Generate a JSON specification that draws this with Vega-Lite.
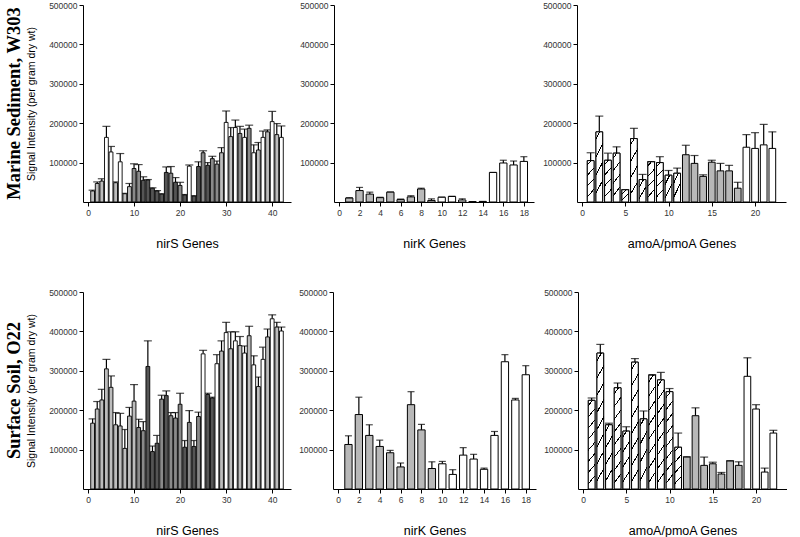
{
  "$schema": "https://vega.github.io/schema/vega-lite/v6.json",
  "padding": {"left": 5, "top": 1, "right": 0, "bottom": 0},
  "background": "white",
  "config": {
    "view": {"stroke": null},
    "font": "Liberation Sans",
    "axis": {"grid": false, "domainColor": "black", "tickColor": "black", "labelColor": "#333333", "labelFont": "Liberation Sans", "titleFont": "Liberation Sans", "labelFontSize": 8.5, "tickSize": 4, "labelPadding": 2, "labelOverlap": false, "titleFontWeight": "normal", "titleColor": "black", "titleFontSize": 12.5}
  },
  "datasets": {
    "ms_nirs": [
      {"gene":1,"value":28000,"err":30000,"shade":"l"},{"gene":2,"value":47000,"err":51000,"shade":"l"},{"gene":3,"value":53000,"err":59000,"shade":"l"},{"gene":4,"value":164000,"err":192000,"shade":"w"},{"gene":5,"value":127000,"err":141000,"shade":"w"},{"gene":6,"value":49000,"err":51000,"shade":"l"},{"gene":7,"value":102000,"err":123000,"shade":"w"},{"gene":8,"value":21000,"err":22000,"shade":"l"},{"gene":9,"value":39000,"err":47000,"shade":"l"},{"gene":10,"value":85000,"err":97000,"shade":"m"},{"gene":11,"value":78000,"err":95000,"shade":"m"},{"gene":12,"value":55000,"err":64000,"shade":"d"},{"gene":13,"value":56000,"err":57000,"shade":"d"},{"gene":14,"value":35000,"err":36000,"shade":"d"},{"gene":15,"value":28000,"err":29000,"shade":"d"},{"gene":16,"value":20000,"err":21000,"shade":"d"},{"gene":17,"value":75000,"err":89000,"shade":"d"},{"gene":18,"value":73000,"err":90000,"shade":"m"},{"gene":19,"value":50000,"err":62000,"shade":"d"},{"gene":20,"value":42000,"err":50000,"shade":"m"},{"gene":21,"value":18000,"err":19000,"shade":"d"},{"gene":22,"value":91000,"err":94000,"shade":"w"},{"gene":23,"value":15000,"err":16000,"shade":"d"},{"gene":24,"value":90000,"err":102000,"shade":"d"},{"gene":25,"value":125000,"err":130000,"shade":"m"},{"gene":26,"value":93000,"err":100000,"shade":"d"},{"gene":27,"value":110000,"err":116000,"shade":"m"},{"gene":28,"value":96000,"err":104000,"shade":"m"},{"gene":29,"value":125000,"err":138000,"shade":"l"},{"gene":30,"value":202000,"err":231000,"shade":"w"},{"gene":31,"value":166000,"err":189000,"shade":"l"},{"gene":32,"value":189000,"err":208000,"shade":"w"},{"gene":33,"value":174000,"err":192000,"shade":"m"},{"gene":34,"value":164000,"err":185000,"shade":"w"},{"gene":35,"value":187000,"err":195000,"shade":"m"},{"gene":36,"value":125000,"err":145000,"shade":"w"},{"gene":37,"value":132000,"err":151000,"shade":"l"},{"gene":38,"value":164000,"err":180000,"shade":"w"},{"gene":39,"value":178000,"err":183000,"shade":"l"},{"gene":40,"value":204000,"err":230000,"shade":"w"},{"gene":41,"value":171000,"err":199000,"shade":"l"},{"gene":42,"value":164000,"err":193000,"shade":"w"}
    ],
    "ms_nirk": [
      {"gene":1,"value":10000,"err":11000,"shade":"g"},{"gene":2,"value":29000,"err":37000,"shade":"g"},{"gene":3,"value":20000,"err":25000,"shade":"g"},{"gene":4,"value":11000,"err":12000,"shade":"g"},{"gene":5,"value":25000,"err":25500,"shade":"g"},{"gene":6,"value":6000,"err":7500,"shade":"g"},{"gene":7,"value":13000,"err":16000,"shade":"g"},{"gene":8,"value":33000,"err":35000,"shade":"g"},{"gene":9,"value":4000,"err":8000,"shade":"w"},{"gene":10,"value":12000,"err":12500,"shade":"w"},{"gene":11,"value":14000,"err":14500,"shade":"w"},{"gene":12,"value":5000,"err":8000,"shade":"w"},{"gene":13,"value":1000,"err":1000,"shade":"w"},{"gene":14,"value":1000,"err":1500,"shade":"w"},{"gene":15,"value":75000,"err":75000,"shade":"w"},{"gene":16,"value":99000,"err":106000,"shade":"w"},{"gene":17,"value":94000,"err":104000,"shade":"w"},{"gene":18,"value":103000,"err":115000,"shade":"w"}
    ],
    "ms_amoa": [
      {"gene":1,"value":105000,"err":125000,"shade":"h"},{"gene":2,"value":178000,"err":218000,"shade":"h"},{"gene":3,"value":106000,"err":124000,"shade":"h"},{"gene":4,"value":124000,"err":140000,"shade":"h"},{"gene":5,"value":31000,"err":31500,"shade":"h"},{"gene":6,"value":161000,"err":187000,"shade":"h"},{"gene":7,"value":57000,"err":70000,"shade":"h"},{"gene":8,"value":102000,"err":102500,"shade":"h"},{"gene":9,"value":100000,"err":115000,"shade":"h"},{"gene":10,"value":68000,"err":80000,"shade":"h"},{"gene":11,"value":73000,"err":86000,"shade":"h"},{"gene":12,"value":120000,"err":144000,"shade":"g"},{"gene":13,"value":98000,"err":118000,"shade":"g"},{"gene":14,"value":65000,"err":69000,"shade":"g"},{"gene":15,"value":101000,"err":106000,"shade":"g"},{"gene":16,"value":79000,"err":98000,"shade":"g"},{"gene":17,"value":79000,"err":93000,"shade":"g"},{"gene":18,"value":35000,"err":50000,"shade":"g"},{"gene":19,"value":139000,"err":171000,"shade":"w"},{"gene":20,"value":136000,"err":176000,"shade":"w"},{"gene":21,"value":145000,"err":197000,"shade":"w"},{"gene":22,"value":136000,"err":178000,"shade":"w"}
    ],
    "ss_nirs": [
      {"gene":1,"value":167000,"err":178000,"shade":"l"},{"gene":2,"value":203000,"err":222000,"shade":"l"},{"gene":3,"value":226000,"err":253000,"shade":"l"},{"gene":4,"value":305000,"err":329000,"shade":"l"},{"gene":5,"value":258000,"err":287000,"shade":"l"},{"gene":6,"value":163000,"err":194000,"shade":"l"},{"gene":7,"value":160000,"err":192000,"shade":"l"},{"gene":8,"value":103000,"err":151000,"shade":"l"},{"gene":9,"value":185000,"err":207000,"shade":"l"},{"gene":10,"value":223000,"err":265000,"shade":"l"},{"gene":11,"value":156000,"err":177000,"shade":"m"},{"gene":12,"value":148000,"err":171000,"shade":"m"},{"gene":13,"value":311000,"err":376000,"shade":"d"},{"gene":14,"value":95000,"err":109000,"shade":"d"},{"gene":15,"value":116000,"err":136000,"shade":"d"},{"gene":16,"value":228000,"err":238000,"shade":"m"},{"gene":17,"value":237000,"err":249000,"shade":"d"},{"gene":18,"value":186000,"err":194000,"shade":"m"},{"gene":19,"value":180000,"err":194000,"shade":"m"},{"gene":20,"value":215000,"err":243000,"shade":"m"},{"gene":21,"value":106000,"err":123000,"shade":"d"},{"gene":22,"value":169000,"err":199000,"shade":"m"},{"gene":23,"value":108000,"err":123000,"shade":"d"},{"gene":24,"value":184000,"err":195000,"shade":"m"},{"gene":25,"value":343000,"err":352000,"shade":"w"},{"gene":26,"value":240000,"err":243000,"shade":"d"},{"gene":27,"value":231000,"err":233000,"shade":"d"},{"gene":28,"value":318000,"err":341000,"shade":"w"},{"gene":29,"value":350000,"err":376000,"shade":"l"},{"gene":30,"value":397000,"err":423000,"shade":"w"},{"gene":31,"value":356000,"err":399000,"shade":"l"},{"gene":32,"value":376000,"err":399000,"shade":"w"},{"gene":33,"value":364000,"err":387000,"shade":"l"},{"gene":34,"value":345000,"err":363000,"shade":"w"},{"gene":35,"value":389000,"err":413000,"shade":"l"},{"gene":36,"value":315000,"err":338000,"shade":"w"},{"gene":37,"value":260000,"err":284000,"shade":"l"},{"gene":38,"value":329000,"err":360000,"shade":"w"},{"gene":39,"value":386000,"err":406000,"shade":"l"},{"gene":40,"value":432000,"err":442000,"shade":"w"},{"gene":41,"value":411000,"err":423000,"shade":"l"},{"gene":42,"value":401000,"err":411000,"shade":"w"}
    ],
    "ss_nirk": [
      {"gene":1,"value":113000,"err":135000,"shade":"g"},{"gene":2,"value":189000,"err":233000,"shade":"g"},{"gene":3,"value":136000,"err":163000,"shade":"g"},{"gene":4,"value":108000,"err":124000,"shade":"g"},{"gene":5,"value":92000,"err":98000,"shade":"g"},{"gene":6,"value":56000,"err":66000,"shade":"g"},{"gene":7,"value":214000,"err":247000,"shade":"g"},{"gene":8,"value":150000,"err":164000,"shade":"g"},{"gene":9,"value":52000,"err":69000,"shade":"g"},{"gene":10,"value":64000,"err":70000,"shade":"w"},{"gene":11,"value":37000,"err":49000,"shade":"w"},{"gene":12,"value":86000,"err":105000,"shade":"w"},{"gene":13,"value":76000,"err":88000,"shade":"w"},{"gene":14,"value":50000,"err":53000,"shade":"w"},{"gene":15,"value":136000,"err":146000,"shade":"w"},{"gene":16,"value":323000,"err":341000,"shade":"w"},{"gene":17,"value":226000,"err":230000,"shade":"w"},{"gene":18,"value":290000,"err":313000,"shade":"w"}
    ],
    "ss_amoa": [
      {"gene":1,"value":225000,"err":231000,"shade":"h"},{"gene":2,"value":345000,"err":367000,"shade":"h"},{"gene":3,"value":163000,"err":167000,"shade":"h"},{"gene":4,"value":257000,"err":269000,"shade":"h"},{"gene":5,"value":147000,"err":158000,"shade":"h"},{"gene":6,"value":322000,"err":331000,"shade":"h"},{"gene":7,"value":178000,"err":198000,"shade":"h"},{"gene":8,"value":289000,"err":290000,"shade":"h"},{"gene":9,"value":277000,"err":296000,"shade":"h"},{"gene":10,"value":247000,"err":255000,"shade":"h"},{"gene":11,"value":106000,"err":142000,"shade":"h"},{"gene":12,"value":81000,"err":82000,"shade":"g"},{"gene":13,"value":186000,"err":206000,"shade":"g"},{"gene":14,"value":60000,"err":81000,"shade":"g"},{"gene":15,"value":64000,"err":68000,"shade":"g"},{"gene":16,"value":38000,"err":42000,"shade":"g"},{"gene":17,"value":71000,"err":72000,"shade":"g"},{"gene":18,"value":60000,"err":69000,"shade":"g"},{"gene":19,"value":286000,"err":333000,"shade":"w"},{"gene":20,"value":203000,"err":214000,"shade":"w"},{"gene":21,"value":43000,"err":53000,"shade":"w"},{"gene":22,"value":142000,"err":149000,"shade":"w"}
    ]
  },
  "vconcat": [
    {
      "hconcat": [
        {
          "width": 208, "height": 197,
          "data": {"name": "ms_nirs"},
          "title": {"text": "Marine Sediment, W303", "orient": "left", "anchor": "middle", "frame": "group", "font": "Liberation Serif", "fontSize": 18.5, "fontWeight": "bold", "color": "black", "offset": 3},
          "layer": [
            {"mark": {"type": "rule", "color": "black", "strokeWidth": 1.2},
             "encoding": {
               "x": {"field": "gene", "type": "quantitative", "scale": {"domain": [0, 43], "nice": false}, "axis": {"values": [0,10,20,30,40], "tickCount": 20, "format": "d", "labelOverlap": false, "title": "nirS Genes", "titlePadding": 21}},
               "y": {"field": "value", "type": "quantitative", "scale": {"domain": [0, 500000], "nice": false}, "axis": {"values": [100000,200000,300000,400000,500000], "tickCount": 20, "format": "d", "labelOverlap": false, "title": "Signal Intensity (per gram dry wt)", "titleFontSize": 10.5, "titlePadding": 12}},
               "y2": {"field": "err"}}},
            {"mark": {"type": "tick", "orient": "horizontal", "size": 8, "thickness": 1.2, "color": "black"},
             "encoding": {"x": {"field": "gene", "type": "quantitative"}, "y": {"field": "err", "type": "quantitative"}}},
            {"mark": {"type": "bar", "width": 3.8, "stroke": "black", "strokeWidth": 0.9},
             "encoding": {"x": {"field": "gene", "type": "quantitative"}, "y": {"field": "value", "type": "quantitative"},
               "fill": {"field": "shade", "type": "nominal", "legend": null, "scale": {"domain": ["w","l","m","d","g","h"], "range": ["#ffffff","#bdbdbd","#8a8a8a","#555555","#b8b8b8","#ffffff"]}}}}
          ]
        },
        {
          "width": 200, "height": 197,
          "data": {"name": "ms_nirk"},
          "layer": [
            {"mark": {"type": "rule", "color": "black", "strokeWidth": 1.2},
             "encoding": {
               "x": {"field": "gene", "type": "quantitative", "scale": {"domain": [0, 18.5], "nice": false}, "axis": {"values": [0,2,4,6,8,10,12,14,16,18], "tickCount": 20, "format": "d", "labelOverlap": false, "title": "nirK Genes", "titlePadding": 21}},
               "y": {"field": "value", "type": "quantitative", "scale": {"domain": [0, 500000], "nice": false}, "axis": {"values": [100000,200000,300000,400000,500000], "tickCount": 20, "format": "d", "labelOverlap": false, "title": null}},
               "y2": {"field": "err"}}},
            {"mark": {"type": "tick", "orient": "horizontal", "size": 7, "thickness": 1.2, "color": "black"},
             "encoding": {"x": {"field": "gene", "type": "quantitative"}, "y": {"field": "err", "type": "quantitative"}}},
            {"mark": {"type": "bar", "width": 7.3, "stroke": "black", "strokeWidth": 1},
             "encoding": {"x": {"field": "gene", "type": "quantitative"}, "y": {"field": "value", "type": "quantitative"},
               "fill": {"field": "shade", "type": "nominal", "legend": null, "scale": {"domain": ["w","l","m","d","g","h"], "range": ["#ffffff","#bdbdbd","#8a8a8a","#555555","#b8b8b8","#ffffff"]}}}}
          ]
        },
        {
          "width": 209, "height": 197,
          "data": {"name": "ms_amoa"},
          "layer": [
            {"mark": {"type": "rule", "color": "black", "strokeWidth": 1.2},
             "encoding": {
               "x": {"field": "gene", "type": "quantitative", "scale": {"domain": [0, 23], "nice": false}, "axis": {"values": [0,5,10,15,20], "tickCount": 20, "format": "d", "labelOverlap": false, "title": "amoA/pmoA Genes", "titlePadding": 21}},
               "y": {"field": "value", "type": "quantitative", "scale": {"domain": [0, 500000], "nice": false}, "axis": {"values": [100000,200000,300000,400000,500000], "tickCount": 20, "format": "d", "labelOverlap": false, "title": null}},
               "y2": {"field": "err"}}},
            {"mark": {"type": "tick", "orient": "horizontal", "size": 8, "thickness": 1.2, "color": "black"},
             "encoding": {"x": {"field": "gene", "type": "quantitative"}, "y": {"field": "err", "type": "quantitative"}}},
            {"mark": {"type": "bar", "width": 6.7, "stroke": "black", "strokeWidth": 1},
             "encoding": {"x": {"field": "gene", "type": "quantitative"}, "y": {"field": "value", "type": "quantitative"},
               "fill": {"field": "shade", "type": "nominal", "legend": null, "scale": {"domain": ["w","l","m","d","g","h"], "range": ["#ffffff","#bdbdbd","#8a8a8a","#555555","#b8b8b8","#ffffff"]}}}},
            {"transform": [{"filter": "datum.shade == 'h' && datum.value < 80000"}],
             "mark": {"type": "bar", "width": 6.7, "stroke": "black", "strokeWidth": 1,
               "fill": {"gradient": "linear", "x1": 0.5, "y1": 1, "x2": 0, "y2": 0, "stops": [
                 {"offset": 0, "color": "white"}, {"offset": 0.3, "color": "white"}, {"offset": 0.3, "color": "black"}, {"offset": 0.37, "color": "black"}, {"offset": 0.37, "color": "white"},
                 {"offset": 0.7, "color": "white"}, {"offset": 0.7, "color": "black"}, {"offset": 0.77, "color": "black"}, {"offset": 0.77, "color": "white"}, {"offset": 1, "color": "white"}]}},
             "encoding": {"x": {"field": "gene", "type": "quantitative"}, "y": {"field": "value", "type": "quantitative"}}},
            {"transform": [{"filter": "datum.shade == 'h' && datum.value >= 80000"}],
             "mark": {"type": "bar", "width": 6.7, "stroke": "black", "strokeWidth": 1,
               "fill": {"gradient": "linear", "x1": 0.18, "y1": 1, "x2": 0, "y2": 0, "stops": [
                 {"offset": 0, "color": "white"}, {"offset": 0.14, "color": "white"}, {"offset": 0.14, "color": "black"}, {"offset": 0.17, "color": "black"}, {"offset": 0.17, "color": "white"},
                 {"offset": 0.39, "color": "white"}, {"offset": 0.39, "color": "black"}, {"offset": 0.42, "color": "black"}, {"offset": 0.42, "color": "white"},
                 {"offset": 0.64, "color": "white"}, {"offset": 0.64, "color": "black"}, {"offset": 0.67, "color": "black"}, {"offset": 0.67, "color": "white"},
                 {"offset": 0.89, "color": "white"}, {"offset": 0.89, "color": "black"}, {"offset": 0.92, "color": "black"}, {"offset": 0.92, "color": "white"}, {"offset": 1, "color": "white"}]}},
             "encoding": {"x": {"field": "gene", "type": "quantitative"}, "y": {"field": "value", "type": "quantitative"}}}
          ]
        }
      ],
      "spacing": 8
    },
    {
      "hconcat": [
        {
          "width": 208, "height": 197,
          "data": {"name": "ss_nirs"},
          "title": {"text": "Surface Soil, O22", "orient": "left", "anchor": "middle", "frame": "group", "font": "Liberation Serif", "fontSize": 18.5, "fontWeight": "bold", "color": "black", "offset": 3},
          "layer": [
            {"mark": {"type": "rule", "color": "black", "strokeWidth": 1.2},
             "encoding": {
               "x": {"field": "gene", "type": "quantitative", "scale": {"domain": [0, 43], "nice": false}, "axis": {"values": [0,10,20,30,40], "tickCount": 20, "format": "d", "labelOverlap": false, "title": "nirS Genes", "titlePadding": 21}},
               "y": {"field": "value", "type": "quantitative", "scale": {"domain": [0, 500000], "nice": false}, "axis": {"values": [100000,200000,300000,400000,500000], "tickCount": 20, "format": "d", "labelOverlap": false, "title": "Signal Intensity (per gram dry wt)", "titleFontSize": 10.5, "titlePadding": 12}},
               "y2": {"field": "err"}}},
            {"mark": {"type": "tick", "orient": "horizontal", "size": 8, "thickness": 1.2, "color": "black"},
             "encoding": {"x": {"field": "gene", "type": "quantitative"}, "y": {"field": "err", "type": "quantitative"}}},
            {"mark": {"type": "bar", "width": 3.8, "stroke": "black", "strokeWidth": 0.9},
             "encoding": {"x": {"field": "gene", "type": "quantitative"}, "y": {"field": "value", "type": "quantitative"},
               "fill": {"field": "shade", "type": "nominal", "legend": null, "scale": {"domain": ["w","l","m","d","g","h"], "range": ["#ffffff","#bdbdbd","#8a8a8a","#555555","#b8b8b8","#ffffff"]}}}}
          ]
        },
        {
          "width": 203, "height": 197,
          "data": {"name": "ss_nirk"},
          "layer": [
            {"mark": {"type": "rule", "color": "black", "strokeWidth": 1.2},
             "encoding": {
               "x": {"field": "gene", "type": "quantitative", "scale": {"domain": [0, 18.5], "nice": false}, "axis": {"values": [0,2,4,6,8,10,12,14,16,18], "tickCount": 20, "format": "d", "labelOverlap": false, "title": "nirK Genes", "titlePadding": 21}},
               "y": {"field": "value", "type": "quantitative", "scale": {"domain": [0, 500000], "nice": false}, "axis": {"values": [100000,200000,300000,400000,500000], "tickCount": 20, "format": "d", "labelOverlap": false, "title": null}},
               "y2": {"field": "err"}}},
            {"mark": {"type": "tick", "orient": "horizontal", "size": 7, "thickness": 1.2, "color": "black"},
             "encoding": {"x": {"field": "gene", "type": "quantitative"}, "y": {"field": "err", "type": "quantitative"}}},
            {"mark": {"type": "bar", "width": 7.3, "stroke": "black", "strokeWidth": 1},
             "encoding": {"x": {"field": "gene", "type": "quantitative"}, "y": {"field": "value", "type": "quantitative"},
               "fill": {"field": "shade", "type": "nominal", "legend": null, "scale": {"domain": ["w","l","m","d","g","h"], "range": ["#ffffff","#bdbdbd","#8a8a8a","#555555","#b8b8b8","#ffffff"]}}}}
          ]
        },
        {
          "width": 209, "height": 197,
          "data": {"name": "ss_amoa"},
          "layer": [
            {"mark": {"type": "rule", "color": "black", "strokeWidth": 1.2},
             "encoding": {
               "x": {"field": "gene", "type": "quantitative", "scale": {"domain": [0, 23], "nice": false}, "axis": {"values": [0,5,10,15,20], "tickCount": 20, "format": "d", "labelOverlap": false, "title": "amoA/pmoA Genes", "titlePadding": 21}},
               "y": {"field": "value", "type": "quantitative", "scale": {"domain": [0, 500000], "nice": false}, "axis": {"values": [100000,200000,300000,400000,500000], "tickCount": 20, "format": "d", "labelOverlap": false, "title": null}},
               "y2": {"field": "err"}}},
            {"mark": {"type": "tick", "orient": "horizontal", "size": 8, "thickness": 1.2, "color": "black"},
             "encoding": {"x": {"field": "gene", "type": "quantitative"}, "y": {"field": "err", "type": "quantitative"}}},
            {"mark": {"type": "bar", "width": 6.7, "stroke": "black", "strokeWidth": 1},
             "encoding": {"x": {"field": "gene", "type": "quantitative"}, "y": {"field": "value", "type": "quantitative"},
               "fill": {"field": "shade", "type": "nominal", "legend": null, "scale": {"domain": ["w","l","m","d","g","h"], "range": ["#ffffff","#bdbdbd","#8a8a8a","#555555","#b8b8b8","#ffffff"]}}}},
            {"transform": [{"filter": "datum.shade == 'h' && datum.value < 200000"}],
             "mark": {"type": "bar", "width": 6.7, "stroke": "black", "strokeWidth": 1,
               "fill": {"gradient": "linear", "x1": 0.18, "y1": 1, "x2": 0, "y2": 0, "stops": [
                 {"offset": 0, "color": "white"}, {"offset": 0.14, "color": "white"}, {"offset": 0.14, "color": "black"}, {"offset": 0.17, "color": "black"}, {"offset": 0.17, "color": "white"},
                 {"offset": 0.39, "color": "white"}, {"offset": 0.39, "color": "black"}, {"offset": 0.42, "color": "black"}, {"offset": 0.42, "color": "white"},
                 {"offset": 0.64, "color": "white"}, {"offset": 0.64, "color": "black"}, {"offset": 0.67, "color": "black"}, {"offset": 0.67, "color": "white"},
                 {"offset": 0.89, "color": "white"}, {"offset": 0.89, "color": "black"}, {"offset": 0.92, "color": "black"}, {"offset": 0.92, "color": "white"}, {"offset": 1, "color": "white"}]}},
             "encoding": {"x": {"field": "gene", "type": "quantitative"}, "y": {"field": "value", "type": "quantitative"}}},
            {"transform": [{"filter": "datum.shade == 'h' && datum.value >= 200000"}],
             "mark": {"type": "bar", "width": 6.7, "stroke": "black", "strokeWidth": 1,
               "fill": {"gradient": "linear", "x1": 0.09, "y1": 1, "x2": 0, "y2": 0, "stops": [
                 {"offset": 0, "color": "white"},
                 {"offset": 0.06, "color": "white"}, {"offset": 0.06, "color": "black"}, {"offset": 0.075, "color": "black"}, {"offset": 0.075, "color": "white"},
                 {"offset": 0.185, "color": "white"}, {"offset": 0.185, "color": "black"}, {"offset": 0.2, "color": "black"}, {"offset": 0.2, "color": "white"},
                 {"offset": 0.31, "color": "white"}, {"offset": 0.31, "color": "black"}, {"offset": 0.325, "color": "black"}, {"offset": 0.325, "color": "white"},
                 {"offset": 0.435, "color": "white"}, {"offset": 0.435, "color": "black"}, {"offset": 0.45, "color": "black"}, {"offset": 0.45, "color": "white"},
                 {"offset": 0.56, "color": "white"}, {"offset": 0.56, "color": "black"}, {"offset": 0.575, "color": "black"}, {"offset": 0.575, "color": "white"},
                 {"offset": 0.685, "color": "white"}, {"offset": 0.685, "color": "black"}, {"offset": 0.7, "color": "black"}, {"offset": 0.7, "color": "white"},
                 {"offset": 0.81, "color": "white"}, {"offset": 0.81, "color": "black"}, {"offset": 0.825, "color": "black"}, {"offset": 0.825, "color": "white"},
                 {"offset": 0.935, "color": "white"}, {"offset": 0.935, "color": "black"}, {"offset": 0.95, "color": "black"}, {"offset": 0.95, "color": "white"},
                 {"offset": 1, "color": "white"}]}},
             "encoding": {"x": {"field": "gene", "type": "quantitative"}, "y": {"field": "value", "type": "quantitative"}}}
          ]
        }
      ],
      "spacing": 7
    }
  ],
  "spacing": 38
}
